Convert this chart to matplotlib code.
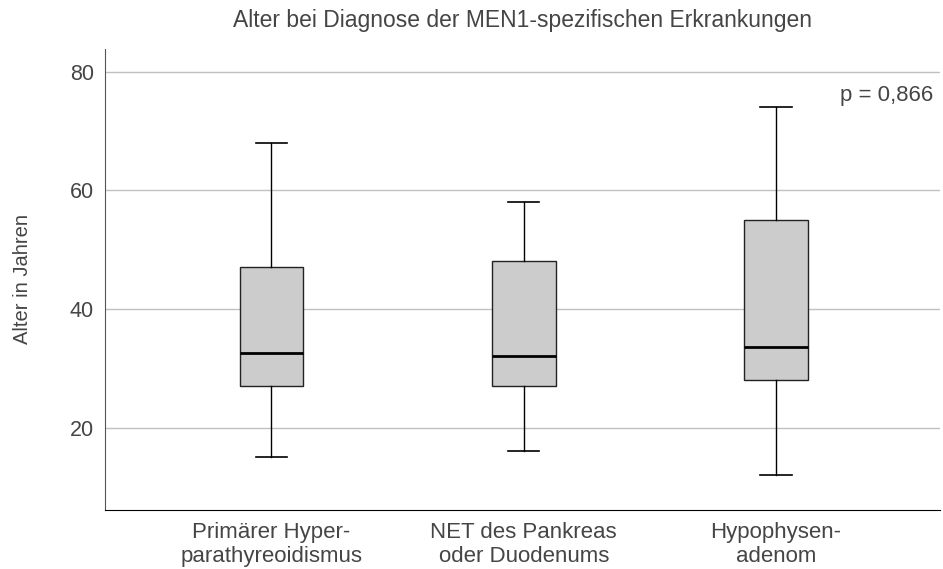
import matplotlib.pyplot as plt

plt.rcParams['font.family'] = ['Liberation Sans', 'DejaVu Sans']

# Kennwerte der Boxplots (Alter in Jahren)
labels = ["Primärer Hyper-\nparathyreoidismus", "NET des Pankreas\noder Duodenums", "Hypophysen-\nadenom"]
whislo = [15, 16, 12]
q1 = [27, 27, 28]
med = [32.5, 32, 33.5]
q3 = [47, 48, 55]
whishi = [68, 58, 74]
p_text = "p = 0,866"

stats = []
for i in range(len(labels)):
    stats.append({"whislo": whislo[i], "q1": q1[i], "med": med[i],
                  "q3": q3[i], "whishi": whishi[i], "fliers": [], "label": labels[i]})

fig = plt.figure(figsize=(9.43, 5.69), dpi=100)
ax = fig.add_axes([0.1113, 0.1037, 0.8855, 0.8102])

ax.yaxis.grid(True, color="#c0c0c0", linewidth=1)
ax.set_axisbelow(True)

ax.bxp(stats, positions=[1, 2, 3], widths=0.253, patch_artist=True, showfliers=False,
       boxprops=dict(facecolor="#cccccc", edgecolor="#222222", linewidth=1),
       medianprops=dict(color="black", linewidth=2),
       whiskerprops=dict(color="black", linewidth=1),
       capprops=dict(color="black", linewidth=1.2), capwidths=0.125,
       zorder=3)

ax.set_xlim(0.34, 3.65)
ax.set_ylim(6.1, 83.8)
ax.set_yticks([20, 40, 60, 80])
ax.tick_params(axis="both", length=0, colors="#454545")
ax.tick_params(axis="x", pad=9, labelsize=16)
ax.tick_params(axis="y", pad=8, labelsize=15.5)
for t in ax.get_xticklabels():
    t.set_linespacing(1.15)

for side in ["top", "right"]:
    ax.spines[side].set_visible(False)
ax.spines["left"].set_color("#555555")
ax.spines["bottom"].set_color("black")

ax.set_ylabel("Alter in Jahren", fontsize=14.5, color="#454545", labelpad=27)
ax.set_title("Alter bei Diagnose der MEN1-spezifischen Erkrankungen",
             fontsize=16.5, color="#454545", pad=16)
ax.text(0.9916, 0.900, p_text, transform=ax.transAxes, ha="right", va="center",
        fontsize=16, color="#454545")

fig.savefig("out.png", dpi=100)
